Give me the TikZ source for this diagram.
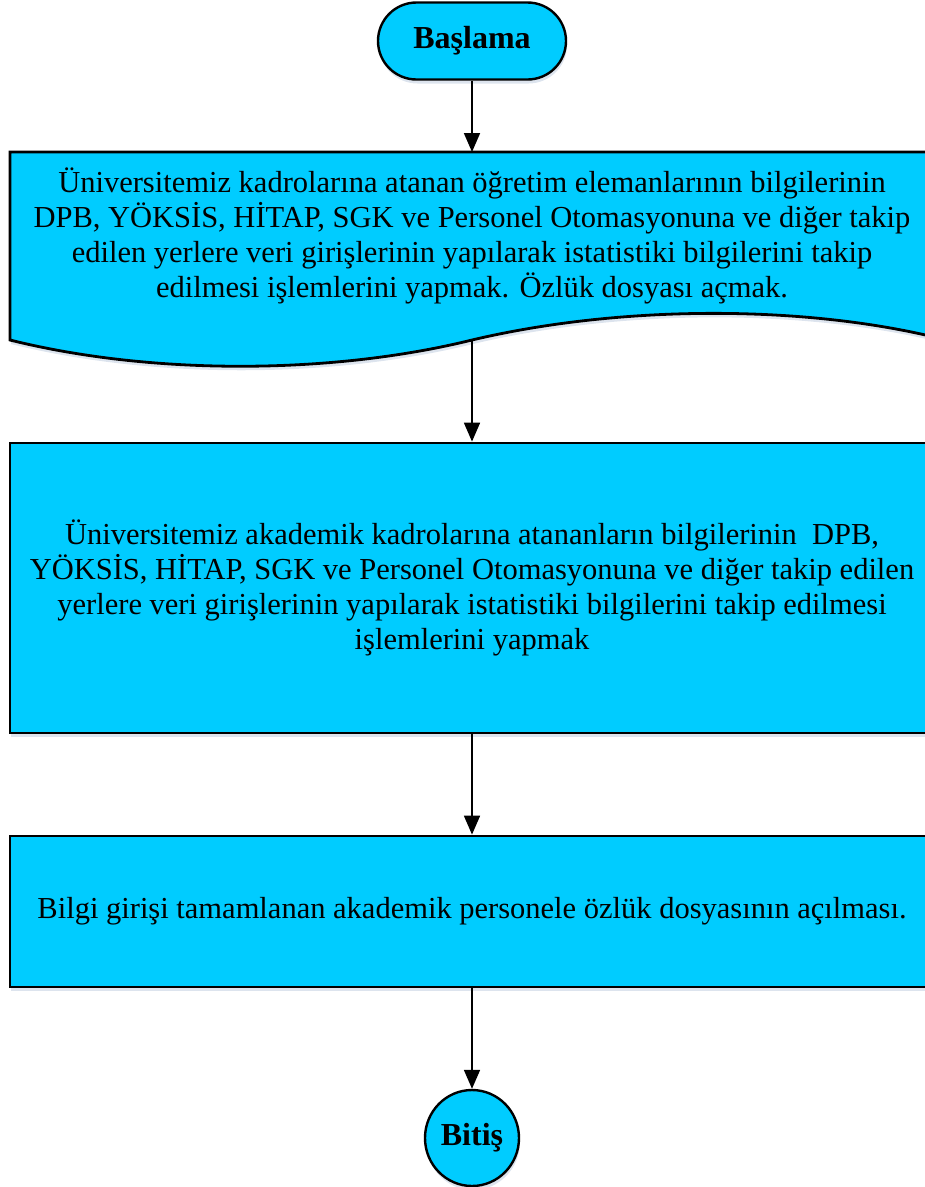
\documentclass[tikz,border=0pt]{standalone}
\usepackage{fontspec}
\setmainfont{Liberation Serif}
\usepackage{tikz}
\usetikzlibrary{arrows.meta}
\usetikzlibrary{shapes.misc, shapes.geometric}
\usetikzlibrary{shadows}
\definecolor{flowcyan}{HTML}{00CCFF}
\definecolor{shadowblue}{HTML}{9DB3CF}

\begin{document}
\begin{tikzpicture}[x=1pt, y=-1pt,
  flowshadow/.style={drop shadow={shadow xshift=1pt, shadow yshift=-4pt, fill=shadowblue, opacity=.35}},
  flowtext/.style={align=center, font=\fontsize{30.5}{35}\selectfont},
  terminal/.style={draw, line width=2.4pt, fill=flowcyan, flowshadow, inner sep=0pt, font=\bfseries\fontsize{32}{36}\selectfont},
  procbox/.style={rectangle, draw, line width=2.8pt, fill=flowcyan, flowshadow, minimum width=924pt, inner sep=0pt, flowtext},
  flowarrow/.style={-{Triangle[length=19pt, width=16pt]}, line width=1.8pt}]
\useasboundingbox (0,0) rectangle (925,1187);
\clip (0,0) rectangle (925,1187);

\node[terminal, rounded rectangle, minimum width=188pt, minimum height=77pt] (start) at (472,41) {Başlama};

\draw[line width=2.8pt, fill=flowcyan, flowshadow] (10,152) -- (934,152) -- (934,337)
  .. controls (800,305) and (620,305) .. (472,340)
  .. controls (330,375) and (150,375) .. (10,340) -- cycle;
\coordinate (doctop) at (472,152);
\coordinate (docbot) at (472,340);
\node[flowtext] (doc) at (472,236) {Üniversitemiz kadrolarına atanan öğretim elemanlarının bilgilerinin\\
DPB, YÖKSİS, HİTAP, SGK ve Personel Otomasyonuna ve diğer takip\\
edilen yerlere veri girişlerinin yapılarak istatistiki bilgilerini takip\\
edilmesi işlemlerini yapmak. Özlük dosyası açmak.};

\node[procbox, minimum height=290pt] (akademik) at (472,588) {Üniversitemiz akademik kadrolarına atananların bilgilerinin \ DPB,\\
YÖKSİS, HİTAP, SGK ve Personel Otomasyonuna ve diğer takip edilen\\
yerlere veri girişlerinin yapılarak istatistiki bilgilerini takip edilmesi\\
işlemlerini yapmak};

\node[procbox, minimum height=151pt] (ozluk) at (472,911.5) {Bilgi girişi tamamlanan akademik personele özlük dosyasının açılması.};

\node[terminal, ellipse, minimum width=94pt, minimum height=96pt] (bitis) at (472,1138) {Bitiş};

\draw[flowarrow] (start) -- (doctop);
\draw[flowarrow] (docbot) -- (akademik);
\draw[flowarrow] (akademik) -- (ozluk);
\draw[flowarrow] (ozluk) -- (bitis);

\end{tikzpicture}
\end{document}
